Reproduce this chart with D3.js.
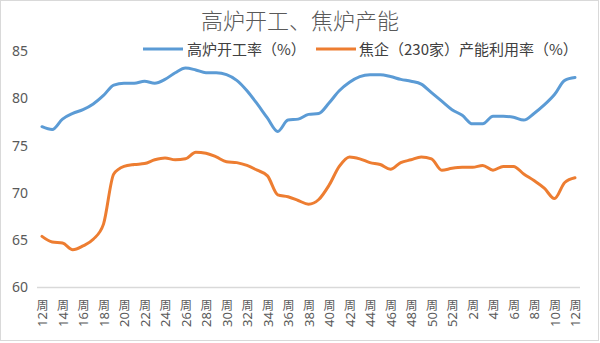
<!DOCTYPE html>
<html>
<head>
<meta charset="utf-8">
<script src="https://cdn.jsdelivr.net/npm/d3@7"></script>
<style>
  html, body { margin: 0; padding: 0; background: #fff; }
  svg { display: block; }
</style>
</head>
<body>
<svg id="chart" width="600" height="343"></svg>
<script>
// Weeks: 12..52 then 1..12 of the following year
const weeks = [12,13,14,15,16,17,18,19,20,21,22,23,24,25,26,27,28,29,30,31,32,33,34,35,36,37,38,39,40,41,42,43,44,45,46,47,48,49,50,51,52,1,2,3,4,5,6,7,8,9,10,11,12];

// 高炉开工率（%）
const blastFurnace = [77.0,76.7,77.8,78.4,78.8,79.4,80.3,81.4,81.6,81.6,81.8,81.6,82.0,82.7,83.2,83.0,82.7,82.7,82.5,81.9,80.8,79.4,77.9,76.5,77.7,77.8,78.3,78.4,79.5,80.8,81.7,82.3,82.5,82.5,82.3,82.0,81.8,81.5,80.6,79.7,78.8,78.2,77.3,77.3,78.1,78.1,78.0,77.7,78.4,79.3,80.4,81.9,82.2];

// 焦企（230家）产能利用率（%）
const cokeUtil = [65.4,64.8,64.7,64.0,64.4,65.1,66.7,72.0,72.8,73.0,73.1,73.5,73.7,73.5,73.6,74.3,74.2,73.8,73.3,73.2,72.9,72.4,71.8,69.8,69.6,69.2,68.8,69.3,70.8,72.8,73.8,73.6,73.2,73.0,72.5,73.2,73.5,73.8,73.6,72.4,72.6,72.7,72.7,72.9,72.4,72.8,72.8,72.0,71.3,70.5,69.4,71.1,71.6];

const yTicks = [60, 65, 70, 75, 80, 85];
const weekSuffix = "周";
const seriesNames = ["高炉开工率（%）", "焦企（230家）产能利用率（%）"];
const seriesColors = ["#5b9bd5", "#ed7d31"];
const title = "高炉开工、焦炉产能";

const svg = d3.select("#chart");
const W = 600, H = 343;

// outer frame
svg.append("rect")
  .attr("x", 0.5).attr("y", 0.5)
  .attr("width", W - 2).attr("height", H - 3)
  .attr("fill", "#fff").attr("stroke", "#d9d9d9");

const x = d3.scaleLinear().domain([0, weeks.length - 1]).range([42, 575]);
const y = d3.scaleLinear().domain([60, 85]).range([287.5, 51]);

// title
svg.append("text")
  .attr("x", 300).attr("y", 29)
  .attr("text-anchor", "middle")
  .attr("font-family", "'Noto Sans CJK SC', sans-serif")
  .attr("font-weight", 300)
  .attr("font-size", 22)
  .attr("fill", "#595959")
  .text(title);

// y axis labels (no axis line)
const yAxis = d3.axisLeft(y).tickValues(yTicks).tickSize(0).tickPadding(0);
const gy = svg.append("g").attr("transform", "translate(28,0)").call(yAxis);
gy.select(".domain").remove();
gy.selectAll("text")
  .attr("font-family", "'Noto Sans', 'DejaVu Sans', sans-serif")
  .attr("font-size", 14)
  .attr("fill", "#595959");

// baseline at 60
svg.append("line")
  .attr("x1", 37).attr("x2", 580)
  .attr("y1", y(60)).attr("y2", y(60))
  .attr("stroke", "#d9d9d9").attr("stroke-width", 1.5);

// x axis: every second week; number rotated, the 周 glyph kept upright above it
const tickIdx = d3.range(0, weeks.length, 2);
const xAxis = d3.axisBottom(x)
  .tickValues(tickIdx)
  .tickSize(0)
  .tickFormat(i => String(weeks[i]));
const gx = svg.append("g").attr("transform", "translate(0,299)").call(xAxis);
gx.select(".domain").remove();
gx.selectAll("text")
  .attr("font-family", "'Noto Sans', 'DejaVu Sans', sans-serif")
  .attr("font-size", 13)
  .attr("fill", "#595959")
  .attr("text-anchor", "end")
  .attr("dy", "0.35em")
  .attr("y", 0)
  .attr("x", -13)
  .attr("transform", "rotate(-90)");
gx.selectAll(".tick").append("text")
  .attr("x", 0).attr("y", 11)
  .attr("text-anchor", "middle")
  .attr("font-family", "'Noto Sans CJK SC', sans-serif")
  .attr("font-size", 12)
  .attr("fill", "#595959")
  .text(weekSuffix);

// lines
const line = d3.line()
  .x((d, i) => x(i))
  .y(d => y(d))
  .curve(d3.curveMonotoneX);

[blastFurnace, cokeUtil].forEach((s, k) => {
  svg.append("path")
    .datum(s)
    .attr("d", line)
    .attr("fill", "none")
    .attr("stroke", seriesColors[k])
    .attr("stroke-width", 3)
    .attr("stroke-linejoin", "round")
    .attr("stroke-linecap", "round");
});

// legend
const legendItems = [
  { x1: 143, x2: 183, tx: 187 },
  { x1: 316, x2: 356, tx: 359 }
];
legendItems.forEach((it, k) => {
  svg.append("line")
    .attr("x1", it.x1).attr("x2", it.x2)
    .attr("y1", 49).attr("y2", 49)
    .attr("stroke", seriesColors[k]).attr("stroke-width", 3);
  svg.append("text")
    .attr("x", it.tx).attr("y", 55)
    .attr("font-family", "'Noto Sans CJK SC', sans-serif")
    .attr("font-size", 15)
    .attr("fill", "#404040")
    .text(seriesNames[k]);
});
</script>
</body>
</html>
